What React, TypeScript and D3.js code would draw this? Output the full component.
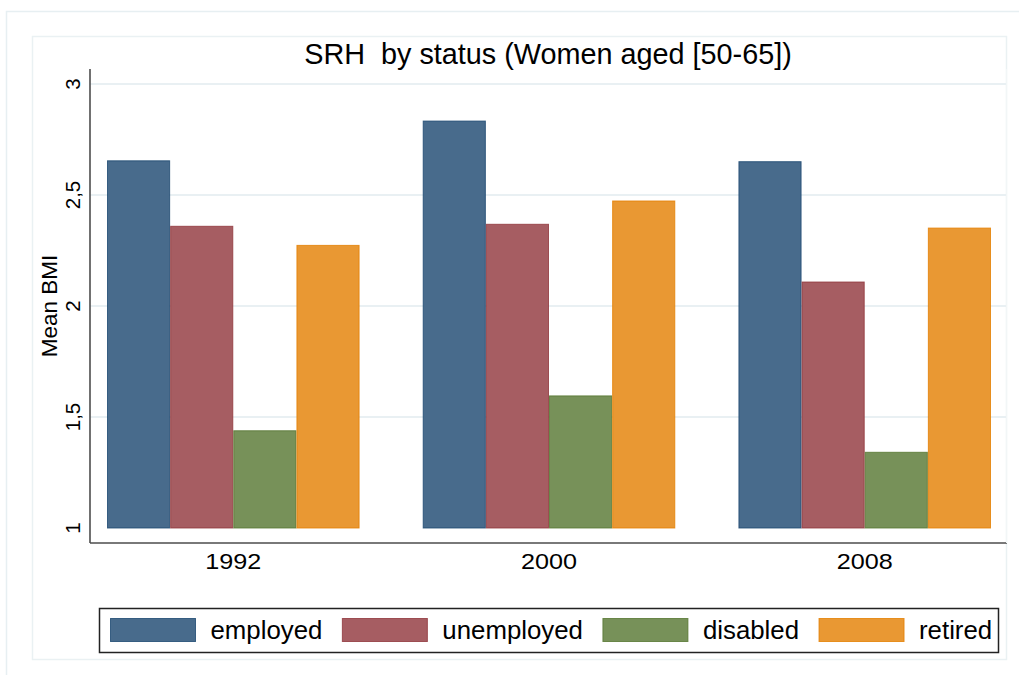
import React, { useEffect, useRef } from 'react';
import * as d3 from 'd3';

const years = ['1992', '2000', '2008'];
const statuses = ['employed', 'unemployed', 'disabled', 'retired'];
const employed = [2.654, 2.833, 2.65];
const unemployed = [2.359, 2.368, 2.108];
const disabled = [1.438, 1.595, 1.341];
const retired = [2.273, 2.473, 2.351];
const yTicks = [1, 1.5, 2, 2.5, 3];
const yTickLabels = ['1', '1,5', '2', '2,5', '3'];

const seriesValues: number[][] = [employed, unemployed, disabled, retired];
const lineColors = ['#1a476f', '#90353b', '#55752f', '#e37e00'];
const fillColors = ['#486b8c', '#a65d62', '#779159', '#e99833'];

const W = 1019;
const H = 675;
const FONT = '"Liberation Sans", Arial, sans-serif';

const App: React.FC = () => {
  const svgRef = useRef<SVGSVGElement>(null);

  useEffect(() => {
    const svg = d3.select(svgRef.current);
    if (!svgRef.current) return;
    svg.selectAll('*').remove();

    // frames
    svg.append('rect').attr('x', 6.5).attr('y', 11.5).attr('width', W + 10).attr('height', H + 10)
      .attr('fill', 'none').attr('stroke', '#e7eff2').attr('stroke-width', 1.5);
    svg.append('rect').attr('x', 32.5).attr('y', 36.5).attr('width', 974).attr('height', 623)
      .attr('fill', 'none').attr('stroke', '#eaf1f3').attr('stroke-width', 1.5);

    const plotLeft = 90;
    const plotRight = 1006;
    const plotTop = 69;
    const plotBottom = 543;

    const y = d3.scaleLinear().domain([1, 3]).range([528, 84]);
    const x0 = d3.scaleBand<string>().domain(years).range([107, 991]).paddingInner(0.2).paddingOuter(0);
    const x1 = d3.scaleBand<string>().domain(statuses).range([0, x0.bandwidth()]).padding(0);

    // grid
    svg.append('g').selectAll('line').data(yTicks.filter((t) => t > 1)).join('line')
      .attr('x1', plotLeft).attr('x2', plotRight + 1)
      .attr('y1', (d) => y(d)).attr('y2', (d) => y(d))
      .attr('stroke', '#e9f0f3').attr('stroke-width', 2);

    // bars
    const groups = svg.append('g').selectAll('g').data(years).join('g')
      .attr('transform', (d) => `translate(${x0(d)},0)`);
    groups.selectAll('rect')
      .data((_, gi) => statuses.map((s, si) => ({ s, si, v: seriesValues[si][gi] })))
      .join('rect')
      .attr('x', (d) => (x1(d.s) as number) + 0.5)
      .attr('y', (d) => y(d.v))
      .attr('width', x1.bandwidth() - 1)
      .attr('height', (d) => y(1) - y(d.v))
      .attr('fill', (d) => fillColors[d.si])
      .attr('stroke', (d) => lineColors[d.si])
      .attr('stroke-opacity', 0.8)
      .attr('stroke-width', 1);

    // axes lines
    svg.append('line').attr('x1', plotLeft).attr('x2', plotLeft).attr('y1', plotTop).attr('y2', plotBottom)
      .attr('stroke', '#4d4d4d').attr('stroke-width', 1.6);
    svg.append('line').attr('x1', plotLeft).attr('x2', plotRight + 1).attr('y1', plotBottom).attr('y2', plotBottom)
      .attr('stroke', '#4d4d4d').attr('stroke-width', 1.6);
    svg.append('line').attr('x1', plotRight + 0.5).attr('x2', plotRight + 0.5).attr('y1', plotTop).attr('y2', plotBottom)
      .attr('stroke', '#f2f6f7').attr('stroke-width', 1);

    // y tick labels
    svg.append('g').selectAll('text').data(yTicks).join('text')
      .attr('transform', (d) => `translate(80,${y(d)}) rotate(-90)`)
      .attr('text-anchor', 'middle')
      .attr('font-family', FONT).attr('font-size', 20.5).attr('fill', '#000')
      .text((_, i) => yTickLabels[i]);

    svg.append('text')
      .attr('transform', `translate(57,${(plotTop + plotBottom) / 2}) rotate(-90)`)
      .attr('text-anchor', 'middle')
      .attr('font-family', FONT).attr('font-size', 22.5).attr('fill', '#000')
      .text('Mean BMI');

    // x labels
    svg.append('g').selectAll('text').data(years).join('text')
      .attr('transform', (d) => `translate(${(x0(d) as number) + x0.bandwidth() / 2},569) scale(1.12,1)`)
      .attr('text-anchor', 'middle')
      .attr('font-family', FONT).attr('font-size', 22.5).attr('fill', '#000')
      .text((d) => d);

    // title
    svg.append('text')
      .attr('x', (plotLeft + plotRight) / 2).attr('y', 64)
      .attr('text-anchor', 'middle')
      .attr('font-family', FONT).attr('font-size', 28.8).attr('fill', '#000')
      .attr('xml:space', 'preserve')
      .style('white-space', 'pre')
      .text('SRH  by status (Women aged [50-65])');

    // legend
    const legend = svg.append('g');
    legend.append('rect').attr('x', 99.5).attr('y', 608.5).attr('width', 899).attr('height', 44)
      .attr('fill', '#fff').attr('stroke', '#222').attr('stroke-width', 1.5);
    let cx = 110;
    statuses.forEach((s, i) => {
      legend.append('rect').attr('x', cx + 0.5).attr('y', 618.5).attr('width', 85).attr('height', 23)
        .attr('fill', fillColors[i]).attr('stroke', lineColors[i]).attr('stroke-opacity', 0.8);
      const t = legend.append('text')
        .attr('x', cx + 100.5).attr('y', 639)
        .attr('font-family', FONT).attr('font-size', 25.8).attr('fill', '#000')
        .text(s);
      const tw = (t.node() as SVGTextElement).getComputedTextLength();
      cx += 100.5 + tw + 19.5;
    });
  }, []);

  return (
    <svg ref={svgRef} width={W} height={H} style={{ position: 'absolute', left: 0, top: 0, background: '#fff' }} />
  );
};

export default App;
